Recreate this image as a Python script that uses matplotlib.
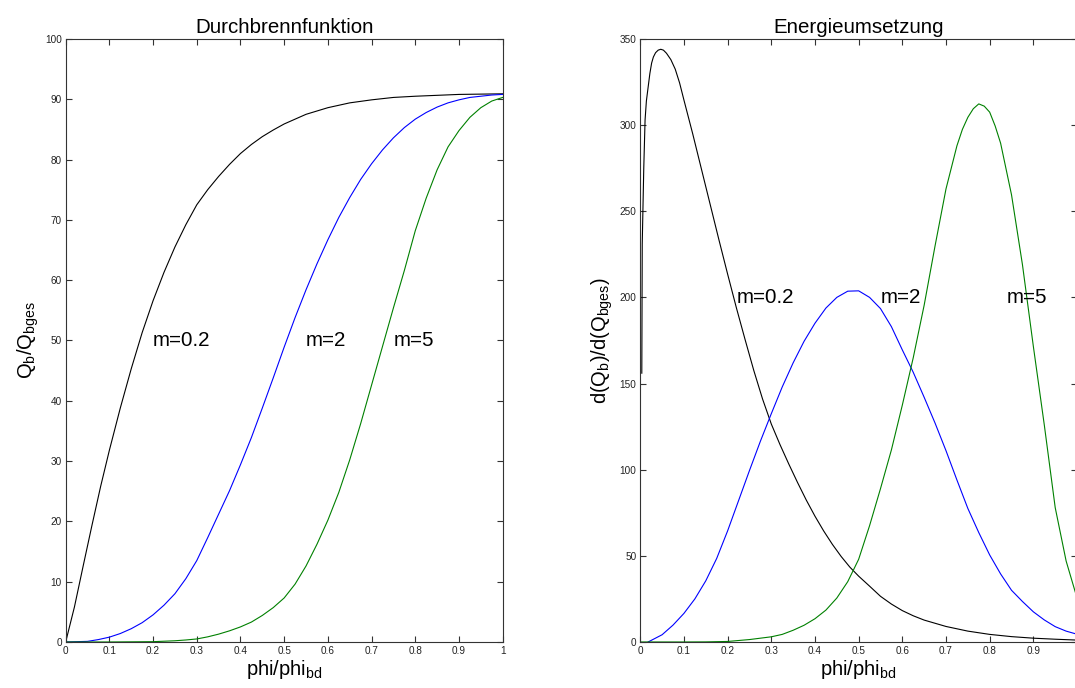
import numpy as np
import matplotlib
matplotlib.use('Agg')
import matplotlib.pyplot as plt

plt.rcParams['font.family'] = ['Liberation Sans', 'DejaVu Sans']
plt.rcParams['mathtext.fontset'] = 'custom'
plt.rcParams['mathtext.rm'] = 'Liberation Sans'
plt.rcParams['mathtext.it'] = 'Liberation Sans'

# Durchbrennfunktion Q_b/Q_bges
x_b02 = [0, 0.02, 0.04, 0.06, 0.08, 0.1, 0.125, 0.15, 0.175, 0.2, 0.225, 0.25,
         0.275, 0.3, 0.325, 0.35, 0.375, 0.4, 0.425, 0.45, 0.475, 0.5, 0.55,
         0.6, 0.65, 0.7, 0.75, 0.8, 0.9, 1.0]
q_b02 = [0, 5.8, 12.6, 19.3, 25.8, 31.8, 38.8, 45.3, 51.3, 56.6, 61.3, 65.5,
         69.2, 72.5, 75.0, 77.2, 79.2, 81.0, 82.5, 83.8, 84.9, 85.9, 87.5,
         88.6, 89.4, 89.9, 90.3, 90.5, 90.8, 90.9]

x_b2 = [0, 0.05, 0.075, 0.1, 0.125, 0.15, 0.175, 0.2, 0.225, 0.25, 0.275, 0.3,
        0.325, 0.35, 0.375, 0.4, 0.425, 0.45, 0.475, 0.5, 0.525, 0.55, 0.575,
        0.6, 0.625, 0.65, 0.675, 0.7, 0.725, 0.75, 0.775, 0.8, 0.825, 0.85,
        0.875, 0.9, 0.925, 0.95, 0.975, 1.0]
q_b2 = [0, 0.1, 0.4, 0.8, 1.4, 2.2, 3.2, 4.5, 6.1, 8.0, 10.5, 13.5,
        17.3, 21.2, 25.1, 29.4, 33.9, 38.8, 43.8, 48.9, 53.8, 58.4, 62.7,
        66.7, 70.4, 73.7, 76.7, 79.3, 81.6, 83.6, 85.3, 86.7, 87.8, 88.7,
        89.4, 89.9, 90.3, 90.5, 90.7, 90.8]

x_b5 = [0, 0.1, 0.2, 0.25, 0.275, 0.3, 0.325, 0.35, 0.375, 0.4, 0.425, 0.45,
        0.475, 0.5, 0.525, 0.55, 0.575, 0.6, 0.625, 0.65, 0.675, 0.7, 0.725,
        0.75, 0.775, 0.8, 0.825, 0.85, 0.875, 0.9, 0.925, 0.95, 0.975, 1.0]
q_b5 = [0, 0, 0.05, 0.2, 0.33, 0.5, 0.85, 1.3, 1.85, 2.5, 3.3, 4.4,
        5.7, 7.3, 9.6, 12.6, 16.2, 20.2, 24.8, 30.2, 36.2, 42.6, 49.0,
        55.4, 61.6, 68.2, 73.6, 78.3, 82.1, 84.8, 87.0, 88.6, 89.7, 90.3]

# Energieumsetzung d(Q_b)/d(Q_bges)
x_d02 = [0.0035, 0.0045, 0.008, 0.011, 0.014, 0.018, 0.022, 0.026, 0.03, 0.035,
         0.041, 0.047, 0.053, 0.06, 0.07, 0.08, 0.09, 0.1, 0.12, 0.14, 0.16,
         0.18, 0.2, 0.22, 0.24, 0.26, 0.28, 0.3, 0.32, 0.34, 0.36, 0.38, 0.4,
         0.42, 0.44, 0.46, 0.48, 0.5, 0.525, 0.55, 0.575, 0.6, 0.625, 0.65,
         0.7, 0.75, 0.8, 0.85, 0.9, 0.95, 1.0]
d_b02 = [156, 231, 275, 303, 314, 322, 330, 336, 339.5, 342,
         343.5, 344, 343.5, 341.7, 338, 332.5, 324.5, 314.5, 295, 274.5, 254,
         233.5, 213.5, 194, 175.5, 157.5, 141, 126.5, 114.5, 103.3, 92.6, 82.4, 73.0,
         64.4, 56.6, 49.6, 43.4, 38.2, 32.4, 26.5, 22.0, 18.2, 15.2, 12.7,
         9.0, 6.3, 4.4, 3.1, 2.2, 1.6, 1.1]

x_d2 = [0.018, 0.05, 0.075, 0.1, 0.125, 0.15, 0.175, 0.2, 0.225, 0.25, 0.275,
        0.3, 0.325, 0.35, 0.375, 0.4, 0.425, 0.45, 0.475, 0.5, 0.525, 0.55,
        0.575, 0.6, 0.625, 0.65, 0.675, 0.7, 0.725, 0.75, 0.775, 0.8, 0.825,
        0.85, 0.875, 0.9, 0.925, 0.95, 0.975, 1.0]
d_b2 = [0, 4.2, 9.8, 16.6, 25.0, 35.5, 48.5, 64.5, 82.0, 99.5, 116.5,
        132.5, 148.0, 162.0, 174.5, 185.0, 193.8, 200.0, 203.6, 203.8, 200.0, 193.5,
        183.0, 169.5, 156.5, 142.0, 127.0, 111.0, 94.0, 77.5, 63.5, 50.5, 39.5,
        30.0, 23.5, 17.5, 12.8, 8.9, 6.3, 4.5]

x_d5 = [0, 0.1, 0.15, 0.2, 0.25, 0.3, 0.325, 0.35, 0.375, 0.4, 0.425, 0.45,
        0.475, 0.5, 0.525, 0.55, 0.575, 0.6, 0.625, 0.65, 0.675, 0.7, 0.725,
        0.7375, 0.75, 0.7625, 0.775, 0.7875, 0.8, 0.8125, 0.825, 0.85, 0.875,
        0.9, 0.925, 0.95, 0.975, 1.0]
d_b5 = [0, 0, 0.05, 0.3, 1.4, 3.0, 4.4, 6.8, 9.7, 13.5, 18.5, 25.5,
        35.0, 48.0, 67.5, 89.0, 111.5, 137.5, 165.0, 195.5, 230.0, 263.0, 288.0,
        297.5, 304.5, 309.5, 312.3, 311.0, 307.5, 299.5, 289.5, 259.5, 219.0,
        171.5, 126.0, 78.0, 47.0, 25.5]

xticks = [0, 0.1, 0.2, 0.3, 0.4, 0.5, 0.6, 0.7, 0.8, 0.9, 1]
xticklabels = ['0', '0.1', '0.2', '0.3', '0.4', '0.5', '0.6', '0.7', '0.8', '0.9', '1']

fig = plt.figure(figsize=(10.75, 6.88), dpi=100)
ax1 = fig.add_axes([0.0611, 0.0669, 0.4065, 0.8765])
ax2 = fig.add_axes([0.5956, 0.0669, 0.4063, 0.8765])

lw = 0.8
ax1.plot(x_b02, q_b02, color='k', lw=lw)
ax1.plot(x_b2, q_b2, color='#0000ff', lw=lw)
ax1.plot(x_b5, q_b5, color='#008000', lw=lw)
ax1.set_xlim(0, 1)
ax1.set_ylim(0, 100)
ax1.set_yticks(range(0, 101, 10))
ax1.text(0.2, 50, 'm=0.2', fontsize=14.8, va='center')
ax1.text(0.55, 50, 'm=2', fontsize=14.8, va='center')
ax1.text(0.75, 50, 'm=5', fontsize=14.8, va='center')
ax1.set_title('Durchbrennfunktion', fontsize=14.8, pad=4.6)
ax1.set_xlabel(r'phi/phi$_{\mathrm{bd}}$', fontsize=14.5, labelpad=1.5)
ax1.set_ylabel(r'Q$_{\mathrm{b}}$/Q$_{\mathrm{bges}}$', fontsize=14.5, labelpad=3)

ax2.plot(x_d02, d_b02, color='k', lw=lw)
ax2.plot(x_d2, d_b2, color='#0000ff', lw=lw)
ax2.plot(x_d5, d_b5, color='#008000', lw=lw)
ax2.set_xlim(0, 1)
ax2.set_ylim(0, 350)
ax2.set_yticks(range(0, 351, 50))
ax2.text(0.22, 200, 'm=0.2', fontsize=14.8, va='center')
ax2.text(0.55, 200, 'm=2', fontsize=14.8, va='center')
ax2.text(0.84, 200, 'm=5', fontsize=14.8, va='center')
ax2.set_title('Energieumsetzung', fontsize=14.8, pad=4.6)
ax2.set_xlabel(r'phi/phi$_{\mathrm{bd}}$', fontsize=14.5, labelpad=1.5)
ax2.set_ylabel(r'd(Q$_{\mathrm{b}}$)/d(Q$_{\mathrm{bges}}$)', fontsize=14.5, labelpad=3)

for ax in (ax1, ax2):
    ax.set_xticks(xticks)
    ax.tick_params(direction='in', top=True, right=True, length=4.3, width=0.8,
                   labelsize=7.2, pad=2.8, colors='#333333', labelcolor='#222222')
    for s in ax.spines.values():
        s.set_color('#333333')
        s.set_linewidth(0.8)

ax1.set_xticklabels(xticklabels)
# the right axes runs past the figure edge, its last label is not visible
ax2.set_xticklabels(xticklabels[:-1] + [''])

fig.savefig('out.png', dpi=100)
